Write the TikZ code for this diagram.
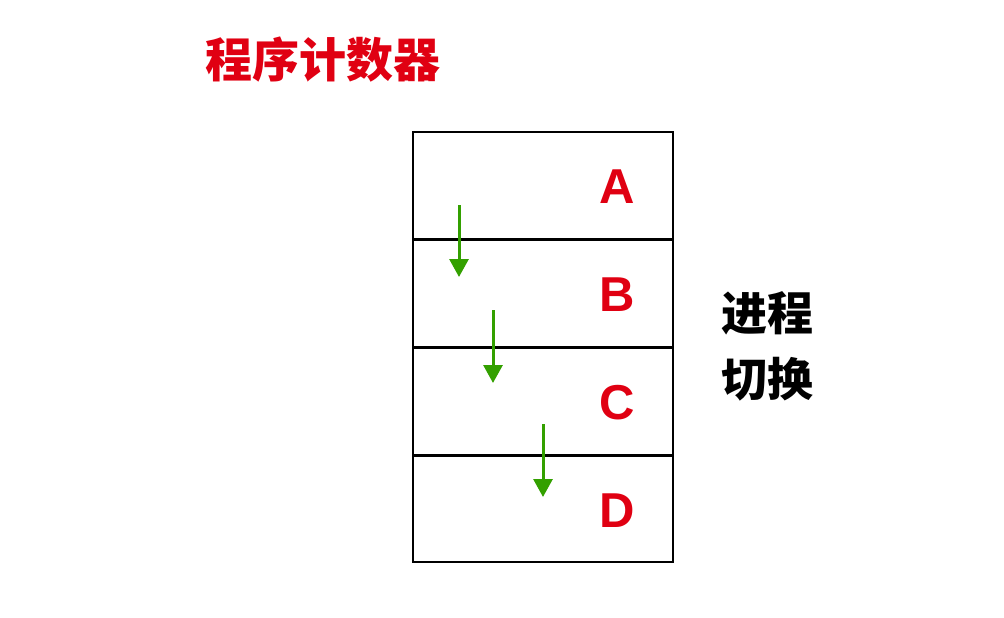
\documentclass[tikz,border=0pt]{standalone}
\usepackage{fontspec}
\usepackage{tikz}
\usetikzlibrary{arrows.meta}
\setmainfont{Liberation Sans}
\newfontfamily\cjk{Noto Sans CJK SC}
\definecolor{pcred}{RGB}{224,0,18}
\definecolor{pcgreen}{RGB}{51,160,0}

\begin{document}
\begin{tikzpicture}[x=1pt, y=-1pt,
    letter/.style={text=pcred, font=\fontsize{49}{50}\selectfont\bfseries},
    jump/.style={pcgreen, line width=3pt, -{Triangle[width=19pt, length=18pt]}}]
            \useasboundingbox (0,0) rectangle (1004,618);

            % Title
            \node[text=pcred, font=\cjk\fontsize{47}{50}\selectfont\bfseries] (title) at (323,60) {程序计数器};

            % Memory Box
            \node[draw=black, line width=2pt, minimum width=260pt, minimum height=430pt, inner sep=0pt] (mem) at (543,347) {};
            \draw[line width=3pt] (413,239) -- (673,239);
            \draw[line width=3pt] (413,347) -- (673,347);
            \draw[line width=3pt] (413,455) -- (673,455);

            % Letters
            \node[letter] (A) at (617,187) {A};
            \node[letter] (B) at (617,295) {B};
            \node[letter] (C) at (617,403) {C};
            \node[letter] (D) at (617,511) {D};

            % Jumps
            \coordinate (jump-1-s) at (459,205);
            \coordinate (jump-1-e) at (459,277);
            \coordinate (jump-2-s) at (493,310);
            \coordinate (jump-2-e) at (493,383);
            \coordinate (jump-3-s) at (543,424);
            \coordinate (jump-3-e) at (543,497);
            \draw[jump] (jump-1-s) -- (jump-1-e);
            \draw[jump] (jump-2-s) -- (jump-2-e);
            \draw[jump] (jump-3-s) -- (jump-3-e);

            % Side Label
            \node[align=center, font=\cjk\fontsize{46}{66}\selectfont\bfseries] (switch) at (767,346) {进程\\切换};
        \end{tikzpicture}
\end{document}
